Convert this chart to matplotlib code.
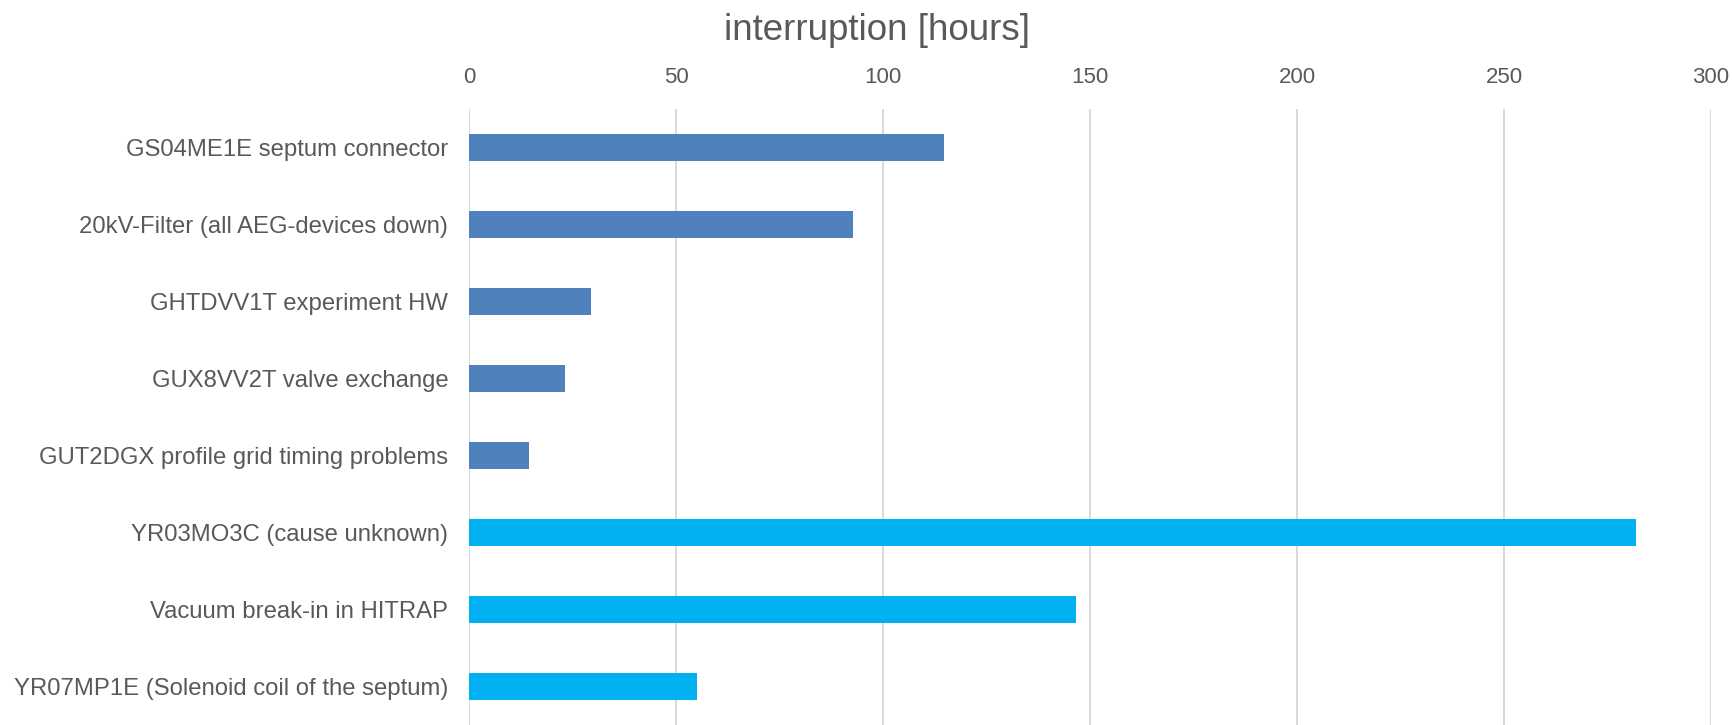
import matplotlib

matplotlib.use("Agg")
import matplotlib.pyplot as plt

plt.rcParams.update({
    "font.family": ["Liberation Sans", "DejaVu Sans"],
    "font.size": 16,
})

GRAY = "#595959"
GRID = "#D9D9D9"
BLUE = "#4F81BD"
CYAN = "#00B0F0"

labels = [
    "GS04ME1E septum connector",
    "20kV-Filter (all AEG-devices down)",
    "GHTDVV1T experiment HW",
    "GUX8VV2T valve exchange",
    "GUT2DGX profile grid timing problems",
    "YR03MO3C (cause unknown)",
    "Vacuum break-in in HITRAP",
    "YR07MP1E (Solenoid coil of the septum)",
]
hours = [114.7, 92.8, 29.4, 23.1, 14.4, 281.9, 146.5, 55.1]
group = ["a", "a", "a", "a", "a", "b", "b", "b"]

fig = plt.figure(figsize=(17.33, 7.25), dpi=100)
ax = fig.add_axes([469 / 1733, 0.0, (1711 - 469) / 1733, 1 - 109 / 725])

colors = [BLUE if g == "a" else CYAN for g in group]
ypos = list(range(len(labels)))
ax.barh(ypos, hours, height=0.36, color=colors, zorder=3)
ax.set_ylim(len(labels) - 0.5, -0.5)
ax.set_yticks(ypos)
ax.set_yticklabels(labels, color=GRAY, fontsize=17.2)

ax.set_xlim(0, 300)
ax.set_xticks(range(0, 301, 50))
ax.xaxis.tick_top()
ax.tick_params(axis="x", length=0, pad=15, labelsize=16, labelcolor=GRAY)
ax.tick_params(axis="y", length=0, pad=15)
ax.grid(axis="x", color=GRID, linewidth=1.4, zorder=0)
for s in ax.spines.values():
    s.set_visible(False)

fig.text(877 / 1733, 1 - 40 / 725, "interruption [hours]", ha="center", va="baseline",
         fontsize=26.5, color=GRAY)

fig.savefig("out.png", dpi=100)
